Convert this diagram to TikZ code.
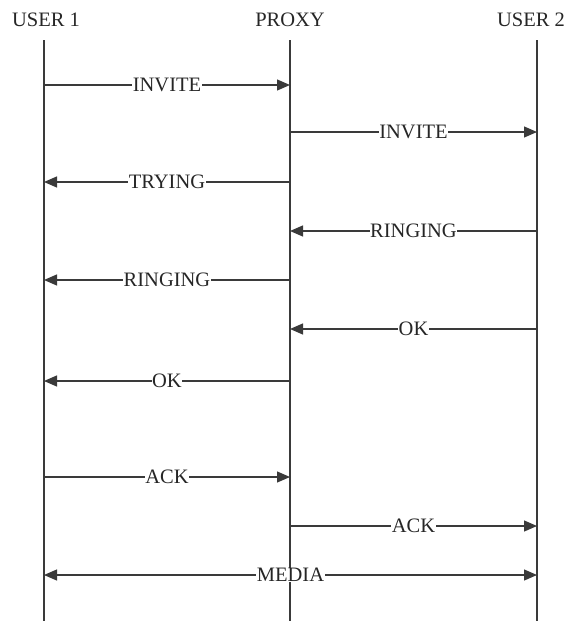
\documentclass[tikz,border=0pt]{standalone}
\usepackage{fontspec}
\setmainfont{Liberation Serif}
\usetikzlibrary{arrows.meta}
\definecolor{ln}{HTML}{3a3a3a}
\tikzset{
  life/.style={draw=ln, line width=1.2pt},
  tip/.tip={Triangle[length=13pt,width=11pt]},
  msg/.style={draw=ln, line width=1.2pt, -tip},
  bmsg/.style={draw=ln, line width=1.2pt, tip-tip},
  lbl/.style={fill=white, inner sep=0.5pt, font=\fontsize{20.5}{24}\selectfont, text=black!85},
  head/.style={font=\fontsize{20.5}{24}\selectfont, text=black!85}
}
\begin{document}
\begin{tikzpicture}[x=1pt,y=-1pt]
\useasboundingbox (0,0) rectangle (566,621);
\node[head] (h1) at (46,20) {USER 1};
\node[head] (h2) at (290,20) {PROXY};
\node[head] (h3) at (531,20) {USER 2};
\foreach \n/\x in {a/44,b/290,c/537}{
  \coordinate (\n t) at (\x,40);
  \coordinate (\n b) at (\x,621);
  \draw[life] (\n t) -- (\n b);
}
\foreach \y [count=\i] in {85,132,182,231,280,329,381,477,526,575}{
  \coordinate (a\i) at (44,\y);
  \coordinate (b\i) at (290,\y);
  \coordinate (c\i) at (537,\y);
}
\draw[msg] (a1) -- node[lbl] (m1) {INVITE} (b1);
\draw[msg] (b2) -- node[lbl] (m2) {INVITE} (c2);
\draw[msg] (b3) -- node[lbl] (m3) {TRYING} (a3);
\draw[msg] (c4) -- node[lbl] (m4) {RINGING} (b4);
\draw[msg] (b5) -- node[lbl] (m5) {RINGING} (a5);
\draw[msg] (c6) -- node[lbl] (m6) {OK} (b6);
\draw[msg] (b7) -- node[lbl] (m7) {OK} (a7);
\draw[msg] (a8) -- node[lbl] (m8) {ACK} (b8);
\draw[msg] (b9) -- node[lbl] (m9) {ACK} (c9);
\draw[bmsg] (a10) -- node[lbl] (m10) {MEDIA} (c10);
\end{tikzpicture}
\end{document}
